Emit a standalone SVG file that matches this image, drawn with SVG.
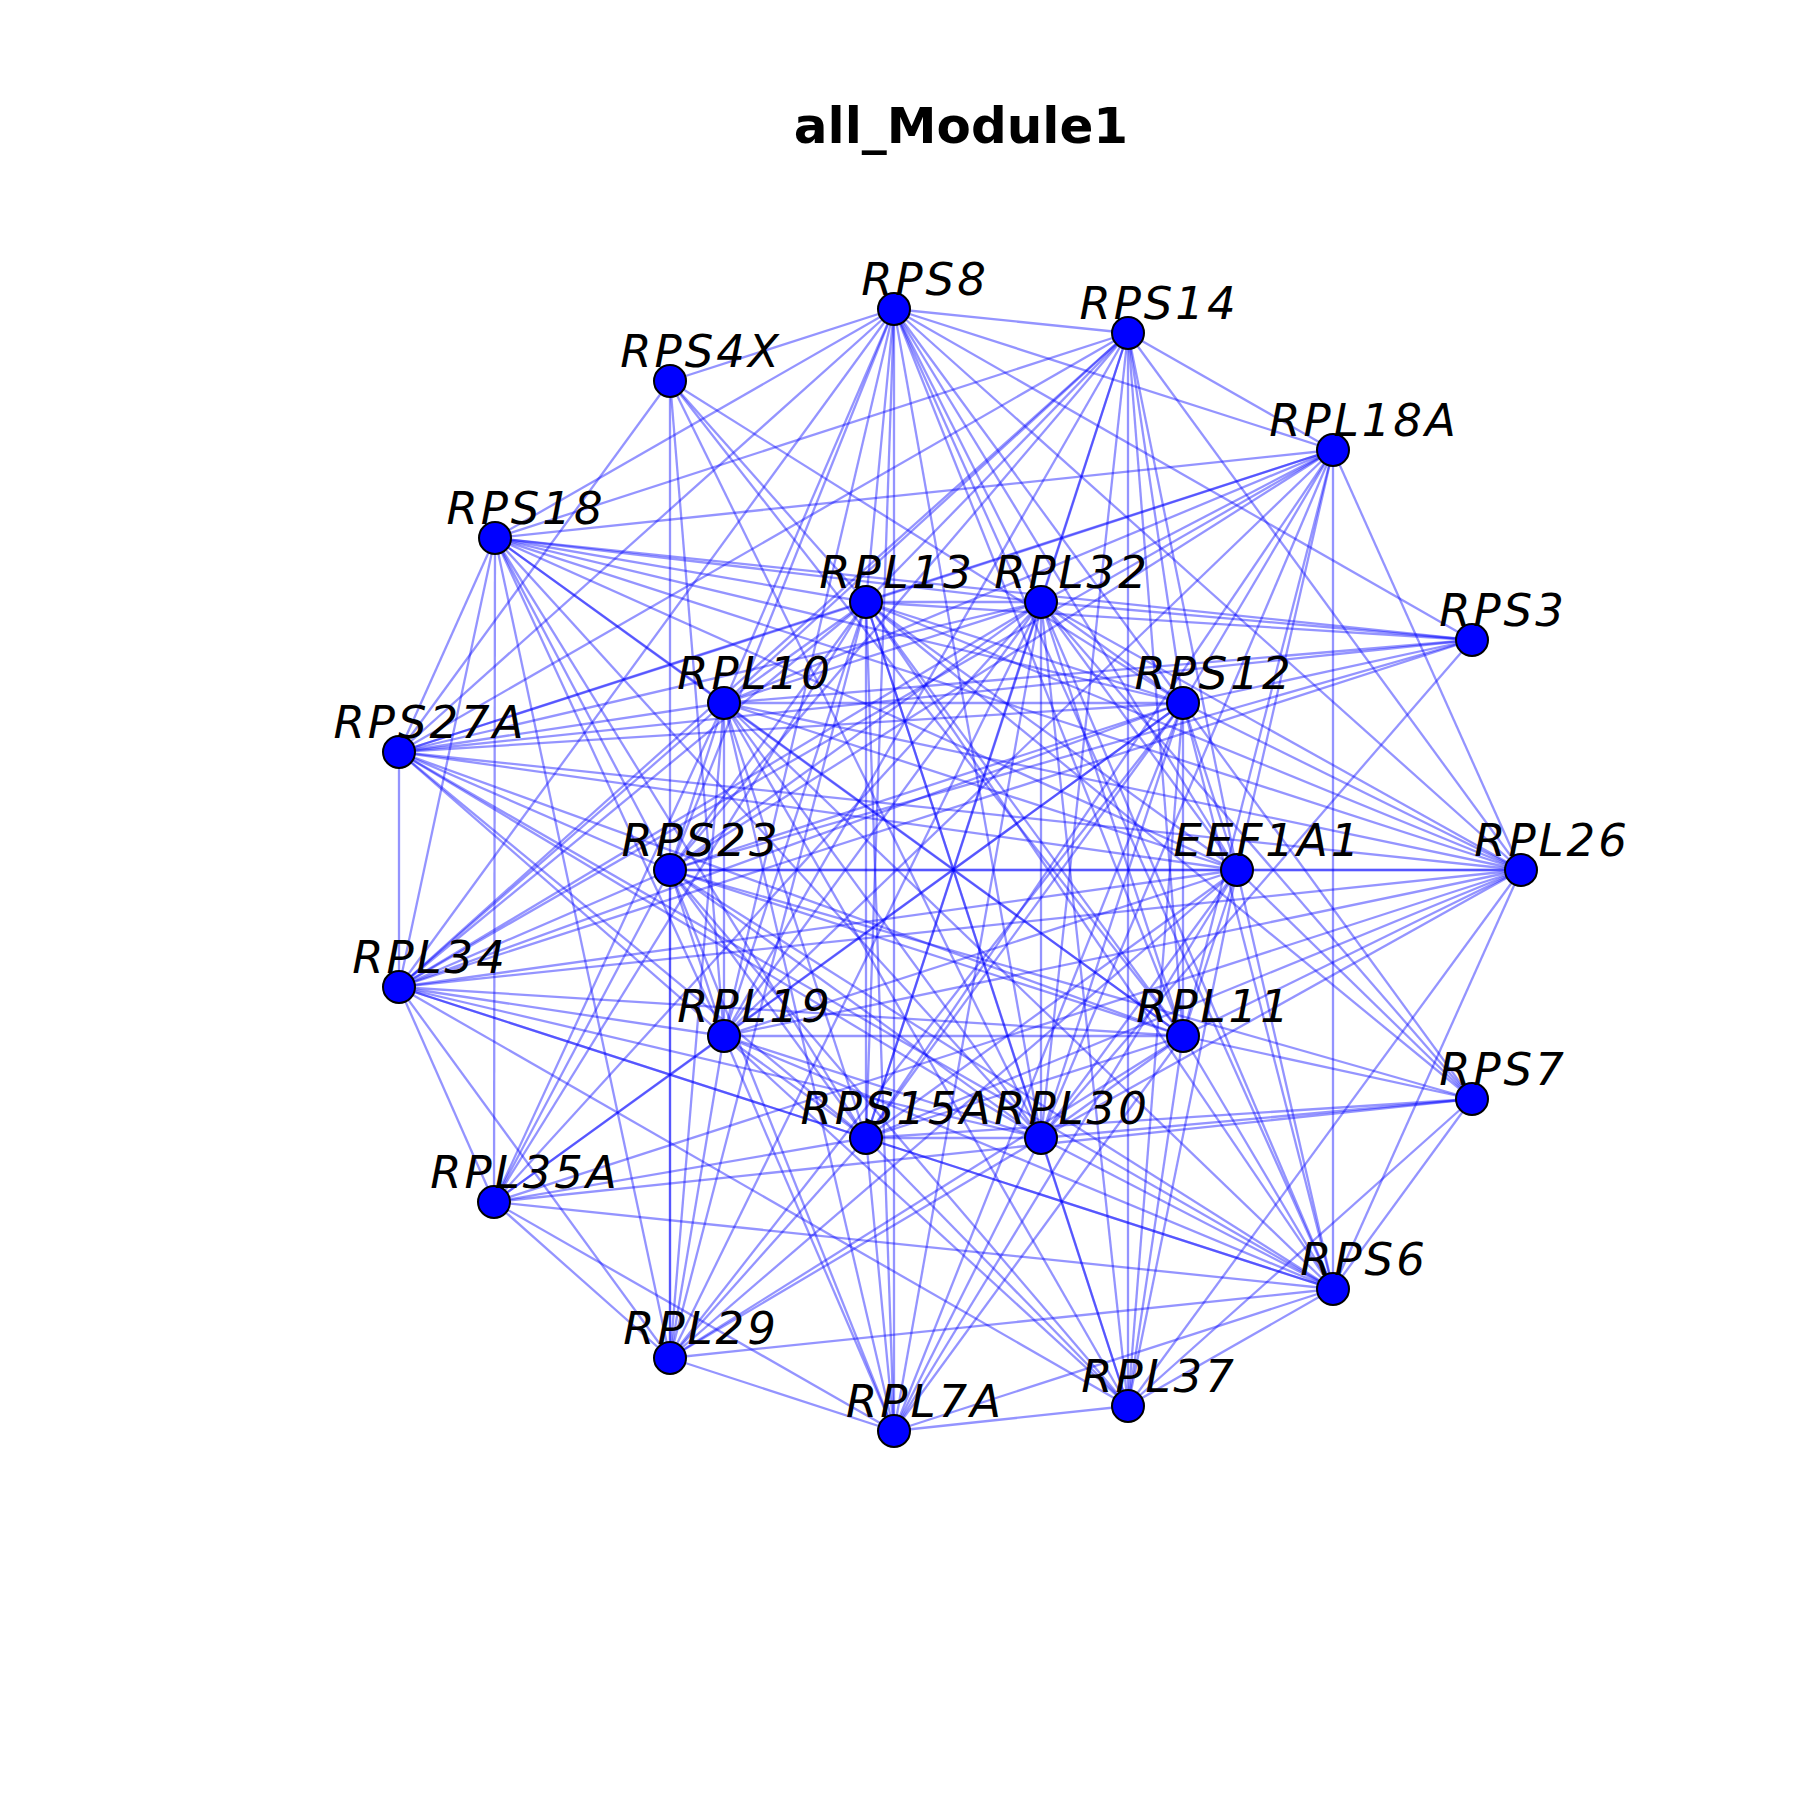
<svg xmlns="http://www.w3.org/2000/svg" width="1800" height="1800" viewBox="0 0 1800 1800">
<style>
.e line{stroke:#0000ff;stroke-opacity:0.42;stroke-width:2.3}
.n circle{fill:#0000ff;stroke:#000;stroke-width:2}
.n text{font-family:"DejaVu Sans",sans-serif;font-style:oblique;font-size:45px;letter-spacing:3px;text-anchor:middle;fill:#000}
.t{font-family:"DejaVu Sans",sans-serif;font-weight:bold;font-size:50px;text-anchor:middle;fill:#000}
</style>
<rect width="1800" height="1800" fill="#fff"/>
<text class="t" x="961" y="143">all_Module1</text>
<g class="e" id="edges">
<line x1="866" y1="602" x2="1041" y2="602"/><line x1="866" y1="602" x2="724" y2="703"/><line x1="866" y1="602" x2="1183" y2="703"/><line x1="866" y1="602" x2="670" y2="870"/><line x1="866" y1="602" x2="1237" y2="870"/><line x1="866" y1="602" x2="724" y2="1036"/><line x1="866" y1="602" x2="1183" y2="1036"/><line x1="866" y1="602" x2="866" y2="1138"/><line x1="866" y1="602" x2="1041" y2="1138"/>
<line x1="1041" y1="602" x2="724" y2="703"/><line x1="1041" y1="602" x2="1183" y2="703"/><line x1="1041" y1="602" x2="670" y2="870"/><line x1="1041" y1="602" x2="1237" y2="870"/><line x1="1041" y1="602" x2="724" y2="1036"/><line x1="1041" y1="602" x2="1183" y2="1036"/><line x1="1041" y1="602" x2="866" y2="1138"/><line x1="1041" y1="602" x2="1041" y2="1138"/>
<line x1="724" y1="703" x2="1183" y2="703"/><line x1="724" y1="703" x2="670" y2="870"/><line x1="724" y1="703" x2="1237" y2="870"/><line x1="724" y1="703" x2="724" y2="1036"/><line x1="724" y1="703" x2="1183" y2="1036"/><line x1="724" y1="703" x2="866" y2="1138"/><line x1="724" y1="703" x2="1041" y2="1138"/>
<line x1="1183" y1="703" x2="670" y2="870"/><line x1="1183" y1="703" x2="1237" y2="870"/><line x1="1183" y1="703" x2="724" y2="1036"/><line x1="1183" y1="703" x2="1183" y2="1036"/><line x1="1183" y1="703" x2="866" y2="1138"/><line x1="1183" y1="703" x2="1041" y2="1138"/>
<line x1="670" y1="870" x2="1237" y2="870"/><line x1="670" y1="870" x2="724" y2="1036"/><line x1="670" y1="870" x2="1183" y2="1036"/><line x1="670" y1="870" x2="866" y2="1138"/><line x1="670" y1="870" x2="1041" y2="1138"/>
<line x1="1237" y1="870" x2="724" y2="1036"/><line x1="1237" y1="870" x2="1183" y2="1036"/><line x1="1237" y1="870" x2="866" y2="1138"/><line x1="1237" y1="870" x2="1041" y2="1138"/>
<line x1="724" y1="1036" x2="1183" y2="1036"/><line x1="724" y1="1036" x2="866" y2="1138"/><line x1="724" y1="1036" x2="1041" y2="1138"/>
<line x1="1183" y1="1036" x2="866" y2="1138"/><line x1="1183" y1="1036" x2="1041" y2="1138"/><line x1="866" y1="1138" x2="1041" y2="1138"/>
<line x1="894" y1="309" x2="866" y2="602"/><line x1="894" y1="309" x2="1041" y2="602"/><line x1="894" y1="309" x2="724" y2="703"/><line x1="894" y1="309" x2="1183" y2="703"/><line x1="894" y1="309" x2="670" y2="870"/><line x1="894" y1="309" x2="1237" y2="870"/><line x1="894" y1="309" x2="724" y2="1036"/><line x1="894" y1="309" x2="1183" y2="1036"/><line x1="894" y1="309" x2="866" y2="1138"/><line x1="894" y1="309" x2="1041" y2="1138"/>
<line x1="1128" y1="333" x2="866" y2="602"/><line x1="1128" y1="333" x2="1041" y2="602"/><line x1="1128" y1="333" x2="724" y2="703"/><line x1="1128" y1="333" x2="1183" y2="703"/><line x1="1128" y1="333" x2="670" y2="870"/><line x1="1128" y1="333" x2="1237" y2="870"/><line x1="1128" y1="333" x2="724" y2="1036"/><line x1="1128" y1="333" x2="1183" y2="1036"/><line x1="1128" y1="333" x2="866" y2="1138"/><line x1="1128" y1="333" x2="1041" y2="1138"/>
<line x1="1333" y1="450" x2="866" y2="602"/><line x1="1333" y1="450" x2="1041" y2="602"/><line x1="1333" y1="450" x2="724" y2="703"/><line x1="1333" y1="450" x2="1183" y2="703"/><line x1="1333" y1="450" x2="670" y2="870"/><line x1="1333" y1="450" x2="1237" y2="870"/><line x1="1333" y1="450" x2="724" y2="1036"/><line x1="1333" y1="450" x2="1183" y2="1036"/><line x1="1333" y1="450" x2="866" y2="1138"/><line x1="1333" y1="450" x2="1041" y2="1138"/>
<line x1="495" y1="538" x2="866" y2="602"/><line x1="495" y1="538" x2="1041" y2="602"/><line x1="495" y1="538" x2="724" y2="703"/><line x1="495" y1="538" x2="1183" y2="703"/><line x1="495" y1="538" x2="670" y2="870"/><line x1="495" y1="538" x2="1237" y2="870"/><line x1="495" y1="538" x2="724" y2="1036"/><line x1="495" y1="538" x2="1183" y2="1036"/><line x1="495" y1="538" x2="866" y2="1138"/><line x1="495" y1="538" x2="1041" y2="1138"/>
<line x1="399" y1="752" x2="866" y2="602"/><line x1="399" y1="752" x2="1041" y2="602"/><line x1="399" y1="752" x2="724" y2="703"/><line x1="399" y1="752" x2="1183" y2="703"/><line x1="399" y1="752" x2="670" y2="870"/><line x1="399" y1="752" x2="1237" y2="870"/><line x1="399" y1="752" x2="724" y2="1036"/><line x1="399" y1="752" x2="1183" y2="1036"/><line x1="399" y1="752" x2="866" y2="1138"/><line x1="399" y1="752" x2="1041" y2="1138"/>
<line x1="1521" y1="870" x2="866" y2="602"/><line x1="1521" y1="870" x2="1041" y2="602"/><line x1="1521" y1="870" x2="724" y2="703"/><line x1="1521" y1="870" x2="1183" y2="703"/><line x1="1521" y1="870" x2="670" y2="870"/><line x1="1521" y1="870" x2="1237" y2="870"/><line x1="1521" y1="870" x2="724" y2="1036"/><line x1="1521" y1="870" x2="1183" y2="1036"/><line x1="1521" y1="870" x2="866" y2="1138"/><line x1="1521" y1="870" x2="1041" y2="1138"/>
<line x1="399" y1="987" x2="866" y2="602"/><line x1="399" y1="987" x2="1041" y2="602"/><line x1="399" y1="987" x2="724" y2="703"/><line x1="399" y1="987" x2="1183" y2="703"/><line x1="399" y1="987" x2="670" y2="870"/><line x1="399" y1="987" x2="1237" y2="870"/><line x1="399" y1="987" x2="724" y2="1036"/><line x1="399" y1="987" x2="1183" y2="1036"/><line x1="399" y1="987" x2="866" y2="1138"/><line x1="399" y1="987" x2="1041" y2="1138"/>
<line x1="1333" y1="1289" x2="866" y2="602"/><line x1="1333" y1="1289" x2="1041" y2="602"/><line x1="1333" y1="1289" x2="724" y2="703"/><line x1="1333" y1="1289" x2="1183" y2="703"/><line x1="1333" y1="1289" x2="670" y2="870"/><line x1="1333" y1="1289" x2="1237" y2="870"/><line x1="1333" y1="1289" x2="724" y2="1036"/><line x1="1333" y1="1289" x2="1183" y2="1036"/><line x1="1333" y1="1289" x2="866" y2="1138"/><line x1="1333" y1="1289" x2="1041" y2="1138"/>
<line x1="670" y1="1358" x2="866" y2="602"/><line x1="670" y1="1358" x2="1041" y2="602"/><line x1="670" y1="1358" x2="724" y2="703"/><line x1="670" y1="1358" x2="1183" y2="703"/><line x1="670" y1="1358" x2="670" y2="870"/><line x1="670" y1="1358" x2="1237" y2="870"/><line x1="670" y1="1358" x2="724" y2="1036"/><line x1="670" y1="1358" x2="1183" y2="1036"/><line x1="670" y1="1358" x2="866" y2="1138"/><line x1="670" y1="1358" x2="1041" y2="1138"/>
<line x1="1128" y1="1406" x2="866" y2="602"/><line x1="1128" y1="1406" x2="1041" y2="602"/><line x1="1128" y1="1406" x2="724" y2="703"/><line x1="1128" y1="1406" x2="1183" y2="703"/><line x1="1128" y1="1406" x2="670" y2="870"/><line x1="1128" y1="1406" x2="1237" y2="870"/><line x1="1128" y1="1406" x2="724" y2="1036"/><line x1="1128" y1="1406" x2="1183" y2="1036"/><line x1="1128" y1="1406" x2="866" y2="1138"/><line x1="1128" y1="1406" x2="1041" y2="1138"/>
<line x1="894" y1="1431" x2="866" y2="602"/><line x1="894" y1="1431" x2="1041" y2="602"/><line x1="894" y1="1431" x2="724" y2="703"/><line x1="894" y1="1431" x2="1183" y2="703"/><line x1="894" y1="1431" x2="670" y2="870"/><line x1="894" y1="1431" x2="1237" y2="870"/><line x1="894" y1="1431" x2="724" y2="1036"/><line x1="894" y1="1431" x2="1183" y2="1036"/><line x1="894" y1="1431" x2="866" y2="1138"/><line x1="894" y1="1431" x2="1041" y2="1138"/>
<line x1="670" y1="381" x2="866" y2="602"/><line x1="670" y1="381" x2="1183" y2="703"/><line x1="670" y1="381" x2="724" y2="1036"/><line x1="670" y1="381" x2="1183" y2="1036"/><line x1="670" y1="381" x2="1041" y2="1138"/>
<line x1="1472" y1="640" x2="866" y2="602"/><line x1="1472" y1="640" x2="1041" y2="602"/><line x1="1472" y1="640" x2="724" y2="703"/><line x1="1472" y1="640" x2="1183" y2="703"/><line x1="1472" y1="640" x2="670" y2="870"/><line x1="1472" y1="640" x2="1041" y2="1138"/><line x1="1472" y1="640" x2="399" y2="752"/><line x1="1472" y1="640" x2="399" y2="987"/>
<line x1="1472" y1="1099" x2="866" y2="602"/><line x1="1472" y1="1099" x2="1041" y2="602"/><line x1="1472" y1="1099" x2="1183" y2="703"/><line x1="1472" y1="1099" x2="1237" y2="870"/><line x1="1472" y1="1099" x2="670" y2="870"/><line x1="1472" y1="1099" x2="1183" y2="1036"/><line x1="1472" y1="1099" x2="866" y2="1138"/><line x1="1472" y1="1099" x2="1041" y2="1138"/><line x1="1472" y1="1099" x2="494" y2="1202"/>
<line x1="494" y1="1202" x2="866" y2="602"/><line x1="494" y1="1202" x2="1041" y2="602"/><line x1="494" y1="1202" x2="724" y2="703"/><line x1="494" y1="1202" x2="1183" y2="703"/><line x1="494" y1="1202" x2="670" y2="870"/><line x1="494" y1="1202" x2="724" y2="1036"/><line x1="494" y1="1202" x2="866" y2="1138"/>
<line x1="894" y1="309" x2="1128" y2="333"/><line x1="894" y1="309" x2="670" y2="381"/><line x1="894" y1="309" x2="1333" y2="450"/><line x1="894" y1="309" x2="495" y2="538"/><line x1="894" y1="309" x2="1472" y2="640"/><line x1="894" y1="309" x2="399" y2="752"/><line x1="894" y1="309" x2="1521" y2="870"/><line x1="894" y1="309" x2="894" y2="1431"/><line x1="894" y1="309" x2="1333" y2="1289"/><line x1="894" y1="309" x2="399" y2="987"/>
<line x1="1128" y1="333" x2="1333" y2="450"/><line x1="1128" y1="333" x2="495" y2="538"/><line x1="1128" y1="333" x2="1521" y2="870"/><line x1="1128" y1="333" x2="399" y2="752"/><line x1="1128" y1="333" x2="1128" y2="1406"/><line x1="1128" y1="333" x2="399" y2="987"/>
<line x1="670" y1="381" x2="670" y2="1358"/><line x1="670" y1="381" x2="399" y2="752"/>
<line x1="1333" y1="450" x2="495" y2="538"/><line x1="1333" y1="450" x2="399" y2="752"/><line x1="1333" y1="450" x2="1521" y2="870"/><line x1="1333" y1="450" x2="1333" y2="1289"/><line x1="1333" y1="450" x2="399" y2="987"/>
<line x1="495" y1="538" x2="1472" y2="640"/><line x1="495" y1="538" x2="399" y2="752"/><line x1="495" y1="538" x2="399" y2="987"/><line x1="495" y1="538" x2="494" y2="1202"/><line x1="495" y1="538" x2="670" y2="1358"/><line x1="495" y1="538" x2="1521" y2="870"/>
<line x1="399" y1="752" x2="399" y2="987"/><line x1="399" y1="752" x2="1521" y2="870"/><line x1="399" y1="752" x2="1333" y2="1289"/>
<line x1="1521" y1="870" x2="1333" y2="1289"/><line x1="1521" y1="870" x2="1128" y2="1406"/><line x1="1521" y1="870" x2="399" y2="987"/><line x1="1521" y1="870" x2="494" y2="1202"/>
<line x1="399" y1="987" x2="1333" y2="1289"/><line x1="399" y1="987" x2="494" y2="1202"/><line x1="399" y1="987" x2="670" y2="1358"/><line x1="399" y1="987" x2="1128" y2="1406"/>
<line x1="1472" y1="1099" x2="1333" y2="1289"/><line x1="1472" y1="1099" x2="1128" y2="1406"/>
<line x1="494" y1="1202" x2="670" y2="1358"/><line x1="494" y1="1202" x2="894" y2="1431"/><line x1="494" y1="1202" x2="1333" y2="1289"/>
<line x1="1333" y1="1289" x2="670" y2="1358"/><line x1="1333" y1="1289" x2="1128" y2="1406"/><line x1="1333" y1="1289" x2="894" y2="1431"/>
<line x1="670" y1="1358" x2="894" y2="1431"/><line x1="1128" y1="1406" x2="894" y2="1431"/>
</g>
<g class="n" id="RPS8"><circle cx="894" cy="309" r="16"/><text x="925" y="295">RPS8</text></g>
<g class="n" id="RPS14"><circle cx="1128" cy="333" r="16"/><text x="1159" y="319">RPS14</text></g>
<g class="n" id="RPS4X"><circle cx="670" cy="381" r="16"/><text x="701" y="367">RPS4X</text></g>
<g class="n" id="RPL18A"><circle cx="1333" cy="450" r="16"/><text x="1364" y="436">RPL18A</text></g>
<g class="n" id="RPS18"><circle cx="495" cy="538" r="16"/><text x="526" y="524">RPS18</text></g>
<g class="n" id="RPL13"><circle cx="866" cy="602" r="16"/><text x="897" y="588">RPL13</text></g>
<g class="n" id="RPL32"><circle cx="1041" cy="602" r="16"/><text x="1072" y="588">RPL32</text></g>
<g class="n" id="RPS3"><circle cx="1472" cy="640" r="16"/><text x="1503" y="626">RPS3</text></g>
<g class="n" id="RPL10"><circle cx="724" cy="703" r="16"/><text x="755" y="689">RPL10</text></g>
<g class="n" id="RPS12"><circle cx="1183" cy="703" r="16"/><text x="1214" y="689">RPS12</text></g>
<g class="n" id="RPS27A"><circle cx="399" cy="752" r="16"/><text x="430" y="738">RPS27A</text></g>
<g class="n" id="RPS23"><circle cx="670" cy="870" r="16"/><text x="701" y="856">RPS23</text></g>
<g class="n" id="EEF1A1"><circle cx="1237" cy="870" r="16"/><text x="1268" y="856">EEF1A1</text></g>
<g class="n" id="RPL26"><circle cx="1521" cy="870" r="16"/><text x="1552" y="856">RPL26</text></g>
<g class="n" id="RPL34"><circle cx="399" cy="987" r="16"/><text x="430" y="973">RPL34</text></g>
<g class="n" id="RPL19"><circle cx="724" cy="1036" r="16"/><text x="755" y="1022">RPL19</text></g>
<g class="n" id="RPL11"><circle cx="1183" cy="1036" r="16"/><text x="1214" y="1022">RPL11</text></g>
<g class="n" id="RPS7"><circle cx="1472" cy="1099" r="16"/><text x="1503" y="1085">RPS7</text></g>
<g class="n" id="RPS15A"><circle cx="866" cy="1138" r="16"/><text x="897" y="1124">RPS15A</text></g>
<g class="n" id="RPL30"><circle cx="1041" cy="1138" r="16"/><text x="1072" y="1124">RPL30</text></g>
<g class="n" id="RPL35A"><circle cx="494" cy="1202" r="16"/><text x="525" y="1188">RPL35A</text></g>
<g class="n" id="RPS6"><circle cx="1333" cy="1289" r="16"/><text x="1364" y="1275">RPS6</text></g>
<g class="n" id="RPL29"><circle cx="670" cy="1358" r="16"/><text x="701" y="1344">RPL29</text></g>
<g class="n" id="RPL37"><circle cx="1128" cy="1406" r="16"/><text x="1159" y="1392">RPL37</text></g>
<g class="n" id="RPL7A"><circle cx="894" cy="1431" r="16"/><text x="925" y="1417">RPL7A</text></g>
</svg>
